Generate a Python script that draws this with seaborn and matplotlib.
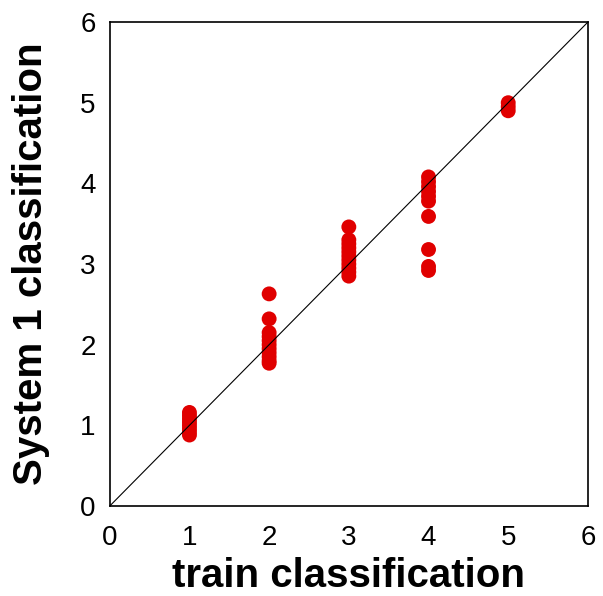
import seaborn as sns
import matplotlib.pyplot as plt
import pandas as pd

# values
train_1 = [1, 1, 1, 1, 1, 1, 1, 1]
sys_1 = [0.88, 0.92, 0.96, 1.0, 1.04, 1.08, 1.12, 1.16]
train_2 = [2, 2, 2, 2, 2, 2, 2, 2, 2, 2, 2]
sys_2 = [2.63, 2.32, 2.15, 2.1, 2.05, 2.0, 1.95, 1.9, 1.85, 1.8, 1.77]
train_3 = [3, 3, 3, 3, 3, 3, 3, 3, 3, 3, 3]
sys_3 = [3.46, 3.3, 3.25, 3.2, 3.15, 3.1, 3.05, 3.0, 2.95, 2.9, 2.85]
train_4 = [4, 4, 4, 4, 4, 4, 4, 4, 4, 4]
sys_4 = [4.08, 4.02, 3.96, 3.9, 3.84, 3.78, 3.59, 3.18, 2.97, 2.92]
train_5 = [5, 5, 5]
sys_5 = [5.0, 4.95, 4.9]

df = pd.DataFrame({
    'train': train_1 + train_2 + train_3 + train_4 + train_5,
    'system1': sys_1 + sys_2 + sys_3 + sys_4 + sys_5,
})

plt.rcParams['font.family'] = ['Liberation Sans', 'DejaVu Sans']

fig, ax = plt.subplots(figsize=(6.03, 5.96), dpi=100)
plt.subplots_adjust(left=0.182, right=0.975, bottom=0.151, top=0.963)

sns.scatterplot(data=df, x='train', y='system1', color='#e00000', s=115,
                edgecolor='none', ax=ax, zorder=2)
ax.plot([0, 6], [0, 6], color='black', lw=0.8, zorder=3)

ax.set_xlim(0, 6)
ax.set_ylim(0, 6)
ax.set_xticks(range(7))
ax.set_yticks(range(7))
ax.tick_params(length=0, labelsize=20)
ax.tick_params(axis='x', pad=14)
ax.tick_params(axis='y', pad=10)
for s in ax.spines.values():
    s.set_linewidth(1.2)
ax.set_xlabel('train classification', fontsize=29, fontweight='bold', labelpad=4)
ax.set_ylabel('System 1 classification', fontsize=29, fontweight='bold', labelpad=22)

plt.savefig('out.png', dpi=100)
